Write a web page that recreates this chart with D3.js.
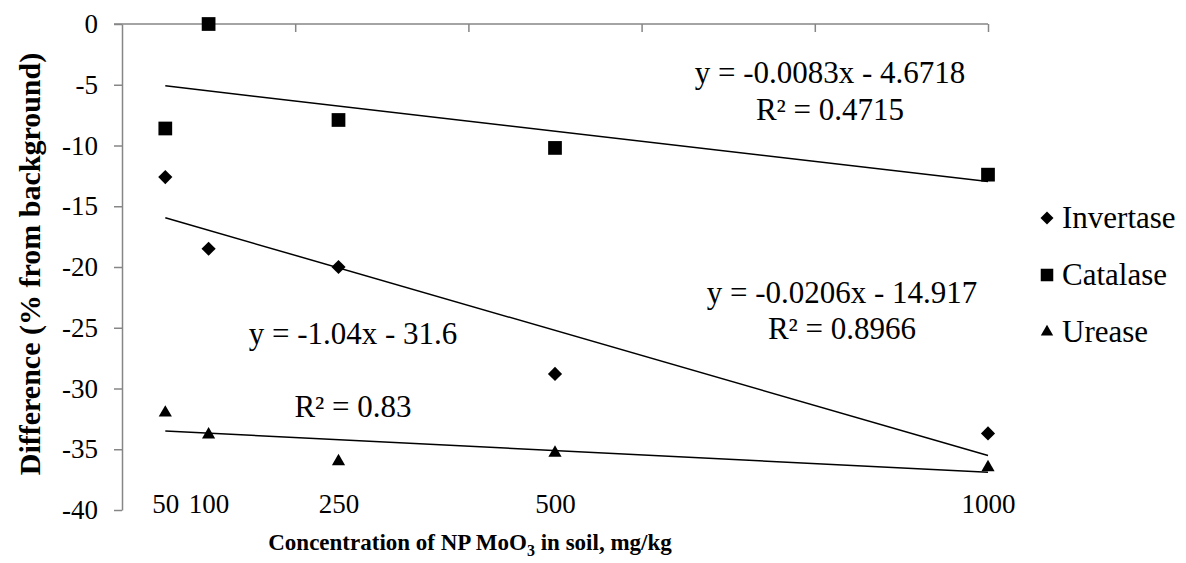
<!DOCTYPE html>
<html>
<head>
<meta charset="utf-8">
<script src="https://cdn.jsdelivr.net/npm/d3@7"></script>
</head>
<body style="margin:0; background:#fff">
<div id="chart"></div>
<script>
// concentrations of NP MoO3 (mg/kg)
const conc = [50, 100, 250, 500, 1000];
const invertase = [-12.6, -18.5, -20.0, -28.8, -33.7];
const catalase = [-8.6, 0.0, -7.9, -10.2, -12.4];
const urease = [-32.0, -33.8, -36.0, -35.3, -36.5];

// trend line values at x = 50 and x = 1000
const trendX = [50, 1000];
const invertaseTrend = [-15.95, -35.52];
const catalaseTrend = [-5.09, -12.97];
const ureaseTrend = [-33.5, -36.9];

const yTicks = [0, -5, -10, -15, -20, -25, -30, -35, -40];
const topTicks = [200, 400, 600, 800, 1000];
const seriesNames = ["Invertase", "Catalase", "Urease"];

const width = 1186, height = 563;
const serif = '"Liberation Serif"';

const svg = d3.select("#chart").append("svg")
  .attr("width", width)
  .attr("height", height);

let x = d3.scaleLinear().domain([0, 1000]).range([122, 988]);
let y = d3.scaleLinear().domain([-40, 0]).range([510, 24]);

const axisColor = "#868686";
const plain = d => String(d);

// y axis (left)
let yAxis = d3.axisLeft(y).tickValues(yTicks).tickSize(8).tickSizeOuter(0)
  .tickPadding(16).tickFormat(plain);
let gy = svg.append("g")
  .attr("transform", `translate(${x(0)},0)`)
  .call(yAxis);
gy.select(".domain").attr("stroke", axisColor).attr("stroke-width", 1.5);
gy.selectAll(".tick line").attr("stroke", axisColor).attr("stroke-width", 1.5);
gy.selectAll(".tick text")
  .style("font-family", serif)
  .attr("font-size", 27)
  .attr("fill", "#000");

// horizontal axis line sits at y = 0 (top)
let xTop = d3.axisBottom(x).tickValues(topTicks).tickSize(8).tickSizeOuter(0).tickFormat("");
let gx = svg.append("g")
  .attr("transform", `translate(0,${y(0)})`)
  .call(xTop);
gx.select(".domain").attr("stroke", axisColor).attr("stroke-width", 1.5)
  .attr("d", `M${x(0) - 8},0H${x(1000)}`);
gx.selectAll(".tick line").attr("stroke", axisColor).attr("stroke-width", 1.5);

// concentration labels below the plot
let xLabels = d3.axisBottom(x).tickValues(conc).tickSize(0).tickPadding(0).tickFormat(plain);
let gl = svg.append("g")
  .attr("transform", `translate(0,${y(-40) - 16})`)
  .call(xLabels);
gl.select(".domain").remove();
gl.selectAll(".tick text")
  .style("font-family", serif)
  .attr("font-size", 27)
  .attr("fill", "#000");

// trend lines
const line = d3.line().x(d => x(d[0])).y(d => y(d[1]));
[invertaseTrend, catalaseTrend, ureaseTrend].forEach(t => {
  svg.append("path")
    .attr("d", line(trendX.map((v, i) => [v, t[i]])))
    .attr("stroke", "#000")
    .attr("stroke-width", 1.5)
    .attr("fill", "none");
});

// markers
const symbols = [
  d3.symbol().type(d3.symbolDiamond2).size(128),
  d3.symbol().type(d3.symbolSquare2).size(240),
  d3.symbol().type(d3.symbolTriangle2).size(125)
];
const allSeries = [invertase, catalase, urease];
allSeries.forEach((vals, s) => {
  svg.append("g").selectAll("path")
    .data(vals)
    .enter()
    .append("path")
    .attr("d", symbols[s])
    .attr("transform", (d, i) => `translate(${x(conc[i])},${y(d)})`)
    .attr("fill", "#000");
});

// trend equations
const eqs = [
  { lines: ["y = -0.0083x - 4.6718", "R\u00b2 = 0.4715"], cx: 830, by: [83, 120] },
  { lines: ["y = -0.0206x - 14.917", "R\u00b2 = 0.8966"], cx: 842, by: [303, 339] },
  { lines: ["y = -1.04x - 31.6", "R\u00b2 = 0.83"], cx: 353, by: [344, 417] }
];
eqs.forEach(e => {
  e.lines.forEach((t, i) => {
    svg.append("text")
      .attr("x", e.cx)
      .attr("y", e.by[i])
      .attr("text-anchor", "middle")
      .style("font-family", serif)
      .attr("font-size", 31)
      .text(t);
  });
});

// legend
const legendSymbols = [
  d3.symbol().type(d3.symbolDiamond2).size(108),
  d3.symbol().type(d3.symbolSquare2).size(200),
  d3.symbol().type(d3.symbolTriangle2).size(110)
];
seriesNames.forEach((name, i) => {
  let ly = 218 + i * 57;
  svg.append("path")
    .attr("d", legendSymbols[i])
    .attr("transform", `translate(1047,${ly})`)
    .attr("fill", "#000");
  svg.append("text")
    .attr("x", 1062)
    .attr("y", ly + 10)
    .style("font-family", serif)
    .attr("font-size", 31)
    .text(name);
});

// axis titles
svg.append("text")
  .attr("transform", "rotate(-90)")
  .attr("x", -264)
  .attr("y", 40)
  .attr("text-anchor", "middle")
  .style("font-family", serif)
  .attr("font-size", 30)
  .attr("font-weight", "bold")
  .text("Difference (% from background)");

let xt = svg.append("text")
  .attr("x", 470)
  .attr("y", 550)
  .attr("text-anchor", "middle")
  .style("font-family", serif)
  .attr("font-size", 23)
  .attr("font-weight", "bold");
xt.append("tspan").text("Concentration of NP MoO");
xt.append("tspan").attr("font-size", 16).attr("dy", 6).text("3");
xt.append("tspan").attr("dy", -6).text(" in soil, mg/kg");
</script>
</body>
</html>
